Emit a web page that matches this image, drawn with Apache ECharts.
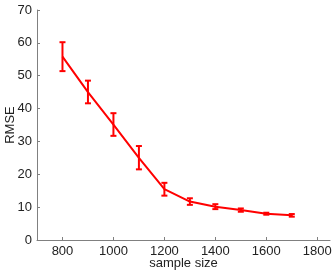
<!DOCTYPE html>
<html><head><meta charset="utf-8">
<script src="https://cdn.jsdelivr.net/npm/echarts@6/dist/echarts.min.js"></script>
<style>html,body{margin:0;padding:0;background:#fff}#c{width:332px;height:272px}</style>
</head><body><div id="c"></div>
<script>
var sampleSize = [800, 900, 1000, 1100, 1200, 1300, 1400, 1500, 1600, 1700];
var rmse       = [55.8, 45.0, 35.1, 25.0, 15.5, 11.7, 10.1, 9.1, 8.0, 7.5];
var errLow     = [51.4, 41.6, 31.7, 21.5, 13.5, 10.7, 9.4, 8.6, 7.7, 7.1];
var errHigh    = [60.2, 48.5, 38.6, 28.6, 17.4, 12.7, 10.9, 9.6, 8.3, 7.9];
var xTicks = [800, 1000, 1200, 1400, 1600, 1800];
var yTicks = [0, 10, 20, 30, 40, 50, 60, 70];

var lineData = sampleSize.map(function (x, i) { return [x, rmse[i]]; });
var errData = sampleSize.map(function (x, i) { return [x, errLow[i], errHigh[i]]; });
var font = 'Liberation Sans, Arial, sans-serif';
var chart = echarts.init(document.getElementById('c'), null, {renderer: 'canvas'});
chart.setOption({
  animation: false,
  grid: {left: 37, right: 2, top: 10, bottom: 32, containLabel: false, outerBoundsMode: 'none'},
  xAxis: {
    type: 'value', min: 700, max: 1850,
    name: 'sample size', nameLocation: 'middle', nameGap: 17, nameMoveOverlap: false,
    nameTextStyle: {color: '#222', fontSize: 13, fontFamily: font},
    axisLine: {show: true, lineStyle: {color: '#808080', width: 1}},
    axisTick: {show: true, inside: true, length: 3, lineStyle: {color: '#808080'}, customValues: xTicks},
    axisLabel: {color: '#222', fontSize: 13, fontFamily: font, margin: 5, customValues: xTicks,
      formatter: function (v) { return String(v); }},
    splitLine: {show: false}
  },
  yAxis: {
    type: 'value', min: 0, max: 70, interval: 10,
    name: 'RMSE', nameLocation: 'middle', nameGap: 20, nameMoveOverlap: false,
    nameTextStyle: {color: '#222', fontSize: 13, fontFamily: font},
    axisLine: {show: true, lineStyle: {color: '#808080', width: 1}},
    axisTick: {show: true, inside: true, length: 3, lineStyle: {color: '#808080'}, customValues: yTicks},
    axisLabel: {color: '#222', fontSize: 13, fontFamily: font, margin: 5, customValues: yTicks,
      formatter: function (v) { return String(v); }},
    splitLine: {show: false}
  },
  series: [
    {
      type: 'line', data: lineData, symbol: 'none',
      lineStyle: {color: '#ff0000', width: 2}, z: 2
    },
    {
      type: 'custom', data: errData, z: 3,
      renderItem: function (params, api) {
        var x = api.value(0);
        var lo = api.coord([x, api.value(1)]);
        var hi = api.coord([x, api.value(2)]);
        var hw = 3;
        var st = {stroke: '#ff0000', lineWidth: 2};
        return {
          type: 'group',
          children: [
            {type: 'line', shape: {x1: lo[0], y1: lo[1], x2: hi[0], y2: hi[1]}, style: st},
            {type: 'line', shape: {x1: lo[0] - hw, y1: lo[1], x2: lo[0] + hw, y2: lo[1]}, style: st},
            {type: 'line', shape: {x1: hi[0] - hw, y1: hi[1], x2: hi[0] + hw, y2: hi[1]}, style: st}
          ]
        };
      }
    }
  ]
});
</script></body></html>
